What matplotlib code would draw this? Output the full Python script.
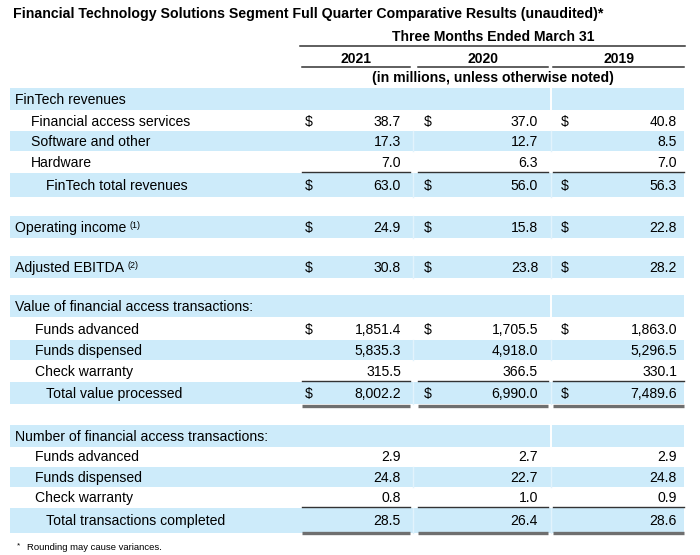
import matplotlib
matplotlib.use("Agg")
import matplotlib.pyplot as plt

plt.rcParams['font.family'] = ['Liberation Sans', 'DejaVu Sans']

title = "Financial Technology Solutions Segment Full Quarter Comparative Results (unaudited)*"
period = "Three Months Ended March 31"
years = ["2021", "2020", "2019"]
units = "(in millions, unless otherwise noted)"
footnote = "Rounding may cause variances."

# row labels, indent level, kind ('h' header, 'd' data, 't' total, 's' spacer)
labels = ["FinTech revenues", "Financial access services", "Software and other", "Hardware",
          "FinTech total revenues", "", "Operating income", "", "Adjusted EBITDA", "",
          "Value of financial access transactions:", "Funds advanced", "Funds dispensed",
          "Check warranty", "Total value processed", "",
          "Number of financial access transactions:", "Funds advanced", "Funds dispensed",
          "Check warranty", "Total transactions completed"]
superscripts = ["", "", "", "", "", "", "(1)", "", "(2)", "", "", "", "", "", "", "", "", "", "", "", ""]
indent = [0, 1, 1, 1, 2, 0, 0, 0, 0, 0, 0, 3, 3, 3, 2, 0, 0, 3, 3, 3, 2]
kind = ["h", "d", "d", "d", "t", "s", "d", "s", "d", "s", "h", "d", "d", "d", "t", "s", "h", "d", "d", "d", "t"]
shaded = [1, 0, 1, 0, 1, 0, 1, 0, 1, 0, 1, 0, 1, 0, 1, 0, 1, 0, 1, 0, 1]
row_y = [100, 122, 142, 163, 186, 207, 228, 248, 268, 288, 307, 330, 351, 372, 394, 416, 437, 457, 478, 498, 521]
vals_2021 = ["", "38.7", "17.3", "7.0", "63.0", "", "24.9", "", "30.8", "", "", "1,851.4", "5,835.3", "315.5", "8,002.2", "", "", "2.9", "24.8", "0.8", "28.5"]
vals_2020 = ["", "37.0", "12.7", "6.3", "56.0", "", "15.8", "", "23.8", "", "", "1,705.5", "4,918.0", "366.5", "6,990.0", "", "", "2.7", "22.7", "1.0", "26.4"]
vals_2019 = ["", "40.8", "8.5", "7.0", "56.3", "", "22.8", "", "28.2", "", "", "1,863.0", "5,296.5", "330.1", "7,489.6", "", "", "2.9", "24.8", "0.9", "28.6"]
dollar = [0, 1, 0, 0, 1, 0, 1, 0, 1, 0, 0, 1, 0, 0, 1, 0, 0, 0, 0, 0, 0]
single_under = [3, 13, 19]
double_under = [14, 20]

fig = plt.figure(figsize=(7.0, 5.55), dpi=100)
ax = fig.add_axes([0, 0, 1, 1])
ax.set_xlim(0, 700)
ax.set_ylim(555, 0)
ax.axis('off')

blue = "#cdebfa"
fs = 10.1
col_l = [302, 418, 553]
col_r = [410, 548, 684]
dollar_x = [305, 424, 561]
val_x = [401, 538, 677]
indent_x = [15, 31, 46, 35]
row_h = [22, 20, 20, 20, 24, 0, 22, 0, 22, 0, 22, 20, 20, 20, 22, 0, 22, 20, 20, 20, 25]

ax.text(13, 14, title, fontsize=10.2, fontweight='bold', va='center', ha='left')
ax.text(493, 37, period, fontsize=fs, fontweight='bold', va='center', ha='center')
ax.plot([300, 685], [46, 46], color='#333333', lw=1.1)
for i, y in enumerate(years):
    ax.text((col_l[i] + col_r[i]) / 2, 59, y, fontsize=fs, fontweight='bold', va='center', ha='center')
    ax.plot([col_l[i], col_r[i]], [67, 67], color='#333333', lw=1.1)
ax.text(493, 78, units, fontsize=fs, fontweight='bold', va='center', ha='center')

for r, lab in enumerate(labels):
    y = row_y[r]
    if kind[r] == 's':
        continue
    if shaded[r]:
        h = row_h[r]
        ax.add_patch(plt.Rectangle((10, y - h / 2 - 1), 674, h, color=blue, lw=0, zorder=0))
        if kind[r] == 'h':
            ax.plot([551, 551], [y - h / 2 - 1, y + h / 2 - 1], color='white', lw=1.4, zorder=0.5)
        else:
            for g in [413, 551]:
                ax.plot([g, g], [y - h / 2 - 1, y + h / 2 - 1], color='#e2f3fc', lw=1.0, zorder=0.5)
    t = ax.text(indent_x[indent[r]], y, lab, fontsize=fs, va='center', ha='left')
    if superscripts[r]:
        fig.canvas.draw()
        bb = t.get_window_extent()
        x_end = ax.transData.inverted().transform((bb.x1, bb.y0))[0]
        ax.text(x_end + 3, y - 3, superscripts[r], fontsize=6.5, va='center', ha='left')
    for i, vals in enumerate([vals_2021, vals_2020, vals_2019]):
        if vals[r]:
            ax.text(val_x[i], y, vals[r], fontsize=fs, va='center', ha='right')
            if dollar[r]:
                ax.text(dollar_x[i], y, "$", fontsize=fs, va='center', ha='left')

for r in single_under:
    yy = row_y[r] + 9
    for i in range(3):
        ax.plot([col_l[i], col_r[i]], [yy, yy], color='#333333', lw=1.0)
for r in double_under:
    yy = row_y[r] + 12
    for i in range(3):
        ax.plot([col_l[i], col_r[i]], [yy, yy], color='#6f6f6f', lw=2.4, solid_capstyle='butt')

ax.text(17, 546, "*", fontsize=6.0, va='center', ha='left')
ax.text(27, 548, footnote, fontsize=6.8, va='center', ha='left')

fig.savefig("out.png", dpi=100)
